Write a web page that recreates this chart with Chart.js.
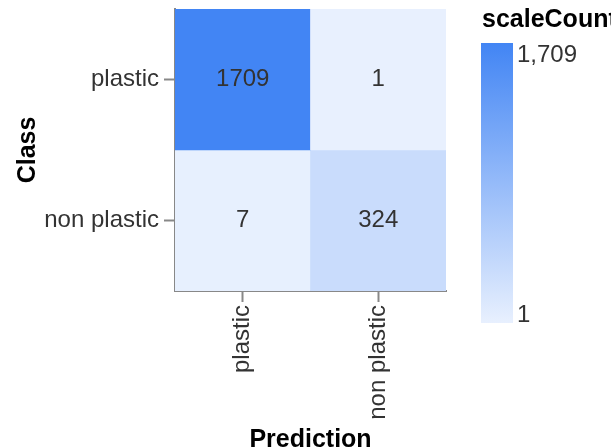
<!DOCTYPE html>
<html>
<head>
<meta charset="utf-8">
<script src="https://cdn.jsdelivr.net/npm/chart.js@4.4.1/dist/chart.umd.min.js"></script>
<style>
  html, body { margin: 0; padding: 0; background: #fff; }
  #wrap { width: 611px; height: 447px; }
</style>
</head>
<body>
<div id="wrap"><canvas id="confusion" width="611" height="447"></canvas></div>
<script>
// matrice de confusion : lignes = Class, colonnes = Prediction
const predictions = ['plastic', 'non plastic'];
const classes = ['plastic', 'non plastic'];
const countPlastic = [1709, 1];      // Class = plastic
const countNonPlastic = [7, 324];    // Class = non plastic
const legendTitle = 'scaleCount';

const FONT = "'Liberation Sans', Arial, sans-serif";
const allCounts = countPlastic.concat(countNonPlastic);
const minCount = Math.min(...allCounts);
const maxCount = Math.max(...allCounts);

const lowColor = [232, 240, 254];
const highColor = [66, 133, 244];

function couleur(v) {
    const t = (v - minCount) / (maxCount - minCount);
    const c = lowColor.map((lo, i) => Math.round(lo + (highColor[i] - lo) * t));
    return `rgb(${c[0]}, ${c[1]}, ${c[2]})`;
}

// une ligne du tableau = une bande flottante sur l'axe Y (0..2)
function ligne(counts, rowIndex) {
    const y0 = classes.length - 1 - rowIndex;
    return {
        label: classes[rowIndex],
        data: counts.map(() => [y0, y0 + 1]),
        counts: counts,
        backgroundColor: counts.map(couleur),
        borderWidth: 0,
        barPercentage: 1,
        categoryPercentage: 1
    };
}

// texte au centre de chaque case
const valeursCases = {
    id: 'valeursCases',
    afterDatasetsDraw(chart) {
        const c = chart.ctx;
        c.save();
        c.font = `24px ${FONT}`;
        c.fillStyle = '#333';
        c.textAlign = 'center';
        c.textBaseline = 'middle';
        chart.data.datasets.forEach((ds, i) => {
            chart.getDatasetMeta(i).data.forEach((bar, j) => {
                c.fillText(String(ds.counts[j]), bar.x, (bar.y + bar.base) / 2);
            });
        });
        c.restore();
    }
};

// légende en dégradé (scaleCount)
const legendeDegrade = {
    id: 'legendeDegrade',
    afterDraw(chart) {
        const c = chart.ctx;
        const x = 481, w = 32, top = 43, bottom = 323;
        c.save();
        const g = c.createLinearGradient(0, top, 0, bottom);
        g.addColorStop(0, couleur(maxCount));
        g.addColorStop(1, couleur(minCount));
        c.fillStyle = g;
        c.fillRect(x, top, w, bottom - top);

        c.fillStyle = '#000';
        c.font = `bold 25px ${FONT}`;
        c.textAlign = 'left';
        c.textBaseline = 'alphabetic';
        c.fillText(legendTitle, 482, 27);

        c.fillStyle = '#333';
        c.font = `24px ${FONT}`;
        c.fillText(maxCount.toLocaleString('en-US'), 517, 62);
        c.fillText(minCount.toLocaleString('en-US'), 517, 322);
        c.restore();
    }
};

const ctx = document.getElementById('confusion');

const confusion = new Chart(ctx, {
    type: 'bar',
    data: {
        labels: predictions,
        datasets: [ligne(countPlastic, 0), ligne(countNonPlastic, 1)]
    },
    options: {
        responsive: false,
        animation: false,
        layout: { padding: { top: 9, right: 165, left: 0, bottom: 0 } },
        plugins: {
            legend: { display: false },
            tooltip: { enabled: false }
        },
        scales: {
            x: {
                type: 'category',
                stacked: true,
                offset: true,
                afterFit: s => { s.height = 156; s.paddingLeft = 0; s.paddingRight = 0; },
                grid: {
                    offset: false,
                    drawOnChartArea: false,
                    drawTicks: true,
                    tickLength: 11,
                    tickWidth: 2,
                    color: '#888'
                },
                border: { display: true, color: '#888', width: 2 },
                ticks: {
                    minRotation: 90,
                    maxRotation: 90,
                    padding: 3,
                    color: '#333',
                    font: { family: FONT, size: 24 }
                },
                title: {
                    display: true,
                    text: 'Prediction',
                    color: '#000',
                    padding: { top: 0, bottom: -8 },
                    font: { family: FONT, size: 25, weight: 'bold' }
                }
            },
            y: {
                type: 'linear',
                min: 0,
                max: classes.length,
                afterFit: s => { s.width = 175; s.paddingTop = 0; s.paddingBottom = 0; },
                afterBuildTicks: s => {
                    s.ticks = classes.map((_, i) => ({ value: classes.length - 1 - i + 0.5 }));
                },
                grid: {
                    drawOnChartArea: false,
                    drawTicks: true,
                    tickLength: 11,
                    tickWidth: 2,
                    color: '#888'
                },
                border: { display: true, color: '#888', width: 2 },
                ticks: {
                    padding: 5,
                    color: '#333',
                    font: { family: FONT, size: 24 },
                    callback: v => classes[classes.length - 1 - Math.floor(v)]
                },
                title: {
                    display: true,
                    text: 'Class',
                    color: '#000',
                    padding: { top: 13, bottom: 0 },
                    font: { family: FONT, size: 25, weight: 'bold' }
                }
            }
        }
    },
    plugins: [valeursCases, legendeDegrade]
});
</script>
</body>
</html>
